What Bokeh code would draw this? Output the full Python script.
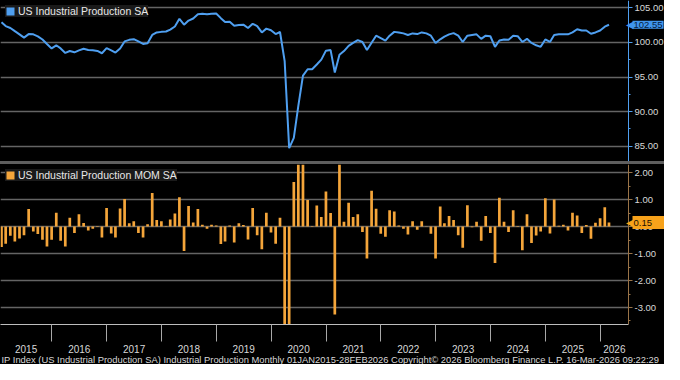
import pandas as pd
from bokeh.plotting import figure
from bokeh.models import (Range1d, FixedTicker, NumeralTickFormatter, Legend, LegendItem,
                          Label, Title, Div, BoxAnnotation)
from bokeh.layouts import column
from bokeh.embed import file_html
from bokeh.resources import INLINE

# ---------------- data ----------------
first_month = "2015-01"
ip_label = "US Industrial Production SA"
mom_label = "US Industrial Production MOM SA"

ip_index = [
    102.91, 102.36, 102.08, 101.62, 101.16, 100.69, 101.20, 101.16, 100.88, 100.42, 99.78, 99.13,
    99.58, 99.13, 98.48, 98.76, 98.57, 98.85, 99.08, 98.90, 98.85, 98.76, 98.43, 99.17,
    98.85, 98.53, 99.13, 100.14, 100.37, 100.47, 100.14, 99.78, 99.87, 101.07, 101.44, 101.52,
    101.57, 101.85, 102.30, 103.40, 102.55, 103.15, 103.45, 104.05, 104.12, 104.05, 104.12, 104.16,
    103.50, 102.95, 102.99, 102.40, 102.50, 102.56, 102.07, 102.69, 102.36, 101.44, 101.99, 101.76,
    101.20, 101.50, 97.30, 84.72, 86.20, 90.82, 95.21, 96.12, 96.12, 96.81, 97.51, 98.81,
    98.89, 95.66, 98.20, 98.75, 99.50, 99.92, 100.33, 100.06, 98.89, 99.96, 100.97, 100.61,
    100.24, 100.97, 101.52, 101.44, 101.30, 101.07, 101.30, 101.20, 101.44, 101.30, 100.97, 99.92,
    100.45, 100.83, 101.16, 101.34, 100.97, 100.06, 100.97, 101.07, 101.16, 100.51, 100.97, 100.89,
    99.36, 100.28, 100.42, 100.37, 100.97, 100.89, 100.06, 100.51, 99.92, 99.58, 99.36, 100.42,
    100.06, 101.07, 101.16, 101.16, 101.16, 101.44, 101.90, 101.72, 101.72, 101.25, 101.44, 101.72,
    102.27, 102.55,
]

ip_mom = [
    -0.76, -0.64, -0.34, -0.55, -0.44, -0.32, 0.65, -0.18, -0.28, -0.49, -0.74, -0.49,
    0.51, -0.53, -0.74, 0.33, -0.24, 0.46, 0.13, -0.15, -0.08, 0.02, -0.41, 0.69,
    -0.26, -0.41, 0.67, 1.02, 0.12, 0.20, -0.24, -0.41, 0.09, 1.24, 0.24, 0.20,
    0.02, 0.26, 0.48, 1.09, -0.91, 0.76, 0.15, 0.65, 0.07, -0.08, 0.07, 0.04,
    -0.65, -0.55, 0.04, -0.59, 0.12, 0.06, -0.48, 0.69, -0.32, -0.84, 0.51, -0.22,
    -0.64, 0.33, -4.30, -12.90, 1.65, 5.70, 3.90, 0.98, 0.02, 0.78, 0.35, 1.30,
    0.50, -3.26, 2.40, 0.18, 0.88, 0.35, 0.46, -0.20, -1.18, 1.33, 0.66, -0.27,
    -0.38, 0.60, 0.56, 0.04, -0.08, -0.29, 0.20, -0.12, 0.20, 0.01, -0.27, -1.18,
    0.74, 0.12, 0.39, 0.24, -0.32, -0.79, 0.79, -0.03, 0.18, -0.53, 0.39, -0.24,
    -1.35, 1.07, 0.18, -0.20, 0.60, 0.02, -0.88, 0.46, -0.61, -0.33, -0.18, 1.05,
    -0.26, 1.00, 0.03, 0.07, -0.15, 0.51, 0.41, -0.24, 0.06, -0.45, 0.14, 0.31,
    0.72, 0.15,
]

years = list(range(2015, 2027))
ip_ticks = [85, 90, 95, 100, 105]
ip_minor = [82.5, 87.5, 92.5, 97.5, 102.5]
mom_ticks = [-3, -2, -1, 0, 1, 2]
mom_minor = [-3.5, -2.5, -1.5, -0.5, 0.5, 1.5]
footer = ("IP Index (US Industrial Production SA) Industrial Production Monthly "
          "01JAN2015-28FEB2026 Copyright\u00a9 2026 Bloomberg Finance L.P.  16-Mar-2026 09:22:29")

# ---------------- styling / layout ----------------
FONT = "Liberation Sans"
BLUE = "#4f9ff0"
ORANGE = "#f4a53a"
GRID = "#646464"
TXT = "#d8d8d8"
BG = "#000000"
W = 664          # full frame width (axis area is inside the frame)
AXIS_PX = 628    # pixel position of the right value axis

dates = pd.period_range(first_month, periods=len(ip_index), freq="M").to_timestamp(how="end").normalize()
x_start = dates[0] - pd.Timedelta(days=6.5)
x_axis = dates[-1] + pd.Timedelta(days=130)
x_end = x_start + (x_axis - x_start) * (W / AXIS_PX)
xr = Range1d(start=x_start, end=x_end)


def ms(ts):
    return int(pd.Timestamp(ts).value // 10**6)


AX_MS = ms(x_axis)
boundaries = [ms(f"{y}-01-01") for y in years]
mids, overrides = [], {}
for y in years:
    a = max(pd.Timestamp(f"{y}-01-01"), x_start)
    b = min(pd.Timestamp(f"{y + 1}-01-01"), x_axis)
    m = ms(a + (b - a) / 2)
    mids.append(m)
    overrides[m] = str(y)


def style_right_axis(p, ticks, minor, color):
    ax = p.yaxis[0]
    ax.fixed_location = AX_MS
    ax.ticker = FixedTicker(ticks=ticks, minor_ticks=minor)
    ax.formatter = NumeralTickFormatter(format="0.00")
    ax.axis_line_color = color
    ax.axis_line_width = 1
    ax.major_tick_line_color = color
    ax.minor_tick_line_color = color
    ax.major_tick_out = 4
    ax.major_tick_in = 0
    ax.minor_tick_out = 2
    ax.minor_tick_in = 0
    ax.major_label_standoff = 2
    ax.major_label_text_color = TXT
    ax.major_label_text_font = FONT
    ax.major_label_text_font_size = "9.5px"
    p.ygrid.ticker = FixedTicker(ticks=ticks)
    p.ygrid.grid_line_color = GRID
    p.ygrid.grid_line_width = 1.3
    p.xgrid.visible = False
    # keep the grid lines out of the value-axis area
    p.add_layout(BoxAnnotation(left=AX_MS, fill_color=BG, fill_alpha=1.0,
                               line_color=None, level="underlay"))


def make_legend(p, label, color):
    nan = float("nan")
    dummy = p.quad(left=[nan], right=[nan], top=[nan], bottom=[nan],
                   fill_color=color, line_color=None)
    leg = Legend(items=[LegendItem(label=label, renderers=[dummy])],
                 location="top_left", margin=5, padding=3, spacing=0,
                 glyph_width=10, glyph_height=10, label_standoff=3, label_height=10,
                 background_fill_color="#1a1a1a", background_fill_alpha=1.0,
                 border_line_color=None, label_text_color="#e8e8e8",
                 label_text_font=FONT, label_text_font_size="10.5px")
    p.add_layout(leg)


def make_tag(p, yval, text, bg, fg):
    arrow = Label(x=AX_MS, y=yval, x_units="data", y_units="data", x_offset=5, text="\u25c0",
                  text_align="right", text_baseline="middle", text_color=bg,
                  text_font_size="10px")
    tag = Label(x=AX_MS, y=yval, x_units="data", y_units="data", x_offset=4, text=text,
                text_align="left", text_baseline="middle", text_color=fg,
                text_font=FONT, text_font_size="9.5px",
                background_fill_color=bg, background_fill_alpha=1.0, padding=1)
    p.add_layout(arrow)
    p.add_layout(tag)


# ---------------- top panel ----------------
p1 = figure(frame_width=W, frame_height=161, x_range=xr, y_range=Range1d(82.8, 106.05),
            x_axis_type="datetime", x_axis_location=None, y_axis_location="right",
            output_backend="svg", toolbar_location=None, title=None,
            background_fill_color=BG, border_fill_color=BG, outline_line_color=None,
            min_border_left=0, min_border_top=0, min_border_bottom=0, min_border_right=0)
style_right_axis(p1, ip_ticks, ip_minor, BLUE)
p1.line(x=dates, y=ip_index, line_color=BLUE, line_width=2)
make_legend(p1, ip_label, BLUE)
make_tag(p1, ip_index[-1], f"{ip_index[-1]:.2f}", "#3f95ee", "#06203d")

# ---------------- separator ----------------
sep = Div(text="", width=W, height=3, margin=0, styles={"background-color": "#5e5e5e"})

# ---------------- bottom panel ----------------
p2 = figure(frame_width=W, frame_height=160, x_range=xr, y_range=Range1d(-3.63, 2.3),
            x_axis_type="datetime", y_axis_location="right",
            output_backend="svg", toolbar_location=None, title=None,
            background_fill_color=BG, border_fill_color=BG, outline_line_color=None,
            min_border_left=0, min_border_top=0, min_border_bottom=40, min_border_right=0)
style_right_axis(p2, mom_ticks, mom_minor, "#9a7448")
bar_w = pd.Timedelta(days=18).total_seconds() * 1000
p2.vbar(x=dates, top=ip_mom, bottom=0, width=bar_w, fill_color=ORANGE, line_color=None)
make_legend(p2, mom_label, ORANGE)
make_tag(p2, ip_mom[-1], f"{ip_mom[-1]:.2f}     ", "#f7a21b", "#1a1000")

xa = p2.xaxis[0]
xa.bounds = (ms(x_start), AX_MS)
xa.ticker = FixedTicker(ticks=mids, minor_ticks=boundaries)
xa.major_label_overrides = overrides
xa.axis_line_color = "#bdbdbd"
xa.major_tick_out = 0
xa.major_tick_in = 0
xa.minor_tick_out = 17
xa.minor_tick_in = 0
xa.minor_tick_line_color = "#a8a8a8"
xa.major_label_standoff = 3
xa.major_label_text_color = TXT
xa.major_label_text_font = FONT
xa.major_label_text_font_size = "10px"

foot = Title(text=footer, align="left", text_font=FONT, text_font_size="9.4px",
             text_font_style="normal", text_color=TXT, standoff=-7, offset=1)
p2.add_layout(foot, "below")

layout = column(p1, sep, p2, spacing=0, styles={"background-color": BG})
open("out.html", "w").write(file_html(layout, INLINE))
